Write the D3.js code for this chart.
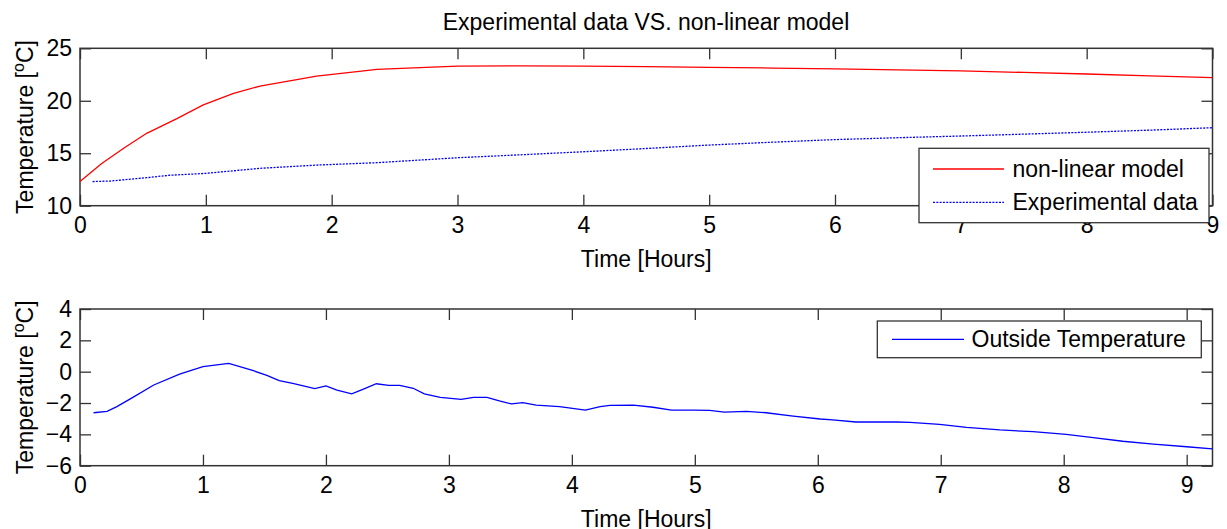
<!DOCTYPE html>
<html>
<head>
<meta charset="utf-8">
<script src="https://cdn.jsdelivr.net/npm/d3@7"></script>
<style>
  body { margin: 0; background: #fff; }
  svg { display: block; font-family: Arial, "Liberation Sans", sans-serif; }
</style>
</head>
<body>
<div id="chart"></div>
<script>
// ── Data ──
const modelHours = [0, 0.17, 0.35, 0.53, 0.77, 0.98, 1.22, 1.43, 1.88, 2.36, 2.7, 3, 3.5, 4, 4.5, 5, 5.5, 6, 6.5, 7, 7.5, 8, 8.5, 9];
const modelTemp  = [12.3, 14.0, 15.5, 16.9, 18.3, 19.6, 20.7, 21.4, 22.35, 23.0, 23.15, 23.3, 23.32, 23.3, 23.25, 23.19, 23.12, 23.03, 22.94, 22.84, 22.7, 22.55, 22.38, 22.2];

const expHours = [0.1, 0.24, 0.53, 0.71, 1.0, 1.14, 1.43, 1.88, 2.36, 2.7, 3, 3.5, 4, 4.5, 5, 5.5, 6, 6.5, 7, 7.5, 8, 8.5, 9];
const expTemp  = [12.3, 12.35, 12.67, 12.9, 13.08, 13.24, 13.56, 13.87, 14.1, 14.35, 14.57, 14.85, 15.14, 15.45, 15.78, 16.05, 16.3, 16.48, 16.64, 16.82, 17.0, 17.2, 17.43];

const outHours = [0.11, 0.22, 0.3, 0.43, 0.6, 0.81, 1.0, 1.21, 1.41, 1.52, 1.62, 1.73, 1.91, 2.0, 2.09, 2.21, 2.32, 2.41, 2.51, 2.6, 2.71, 2.8, 2.93, 3.1, 3.2, 3.31, 3.41, 3.51, 3.6, 3.71, 3.9, 4.11, 4.23, 4.31, 4.5, 4.66, 4.81, 4.99, 5.12, 5.24, 5.42, 5.58, 5.8, 6.02, 6.12, 6.31, 6.64, 6.75, 6.99, 7.21, 7.48, 7.75, 8.02, 8.24, 8.48, 8.73, 9.0, 9.21];
const outTemp  = [-2.62, -2.53, -2.23, -1.64, -0.85, -0.15, 0.32, 0.53, 0.06, -0.23, -0.57, -0.74, -1.08, -0.91, -1.17, -1.42, -1.06, -0.77, -0.87, -0.87, -1.06, -1.42, -1.64, -1.77, -1.64, -1.64, -1.87, -2.06, -1.98, -2.13, -2.23, -2.45, -2.23, -2.15, -2.13, -2.27, -2.45, -2.45, -2.47, -2.58, -2.53, -2.62, -2.83, -3.02, -3.08, -3.21, -3.21, -3.23, -3.36, -3.55, -3.72, -3.83, -4.0, -4.21, -4.44, -4.62, -4.79, -4.92];

const topXTicks = [0, 1, 2, 3, 4, 5, 6, 7, 8, 9];
const topYTicks = [10, 15, 20, 25];
const botXTicks = [0, 1, 2, 3, 4, 5, 6, 7, 8, 9];
const botYTicks = [-6, -4, -2, 0, 2, 4];

const W = 1227, H = 529;
const FONT = 23;
const AXIS = '#333';
const TICK = 11;

const svg = d3.select('#chart').append('svg')
  .attr('width', W).attr('height', H);

function panel(opts) {
  const { left, right, top, bottom, xDomain, yDomain, xTicks, yTicks } = opts;
  const x = d3.scaleLinear().domain(xDomain).range([left, right]);
  const y = d3.scaleLinear().domain(yDomain).range([bottom, top]);

  const g = svg.append('g');

  const styleAxis = sel => {
    sel.select('.domain').remove();
    sel.selectAll('line').attr('stroke', AXIS).attr('stroke-width', 1.3);
    sel.selectAll('text').attr('font-size', FONT).attr('fill', '#000')
      .attr('font-family', 'Arial, "Liberation Sans", sans-serif');
  };

  // ticks on all four sides, pointing inwards
  g.append('g').attr('transform', `translate(0,${bottom})`)
    .call(d3.axisBottom(x).tickValues(xTicks).tickSize(-TICK).tickPadding(11).tickFormat(d3.format('d')))
    .call(styleAxis);
  g.append('g').attr('transform', `translate(0,${top})`)
    .call(d3.axisTop(x).tickValues(xTicks).tickSize(-TICK).tickFormat(''))
    .call(styleAxis);
  g.append('g').attr('transform', `translate(${left},0)`)
    .call(d3.axisLeft(y).tickValues(yTicks).tickSize(-TICK).tickPadding(8).tickFormat(d3.format('d')))
    .call(styleAxis);
  g.append('g').attr('transform', `translate(${right},0)`)
    .call(d3.axisRight(y).tickValues(yTicks).tickSize(-TICK).tickFormat(''))
    .call(styleAxis);

  // box
  g.append('rect')
    .attr('x', left).attr('y', top)
    .attr('width', right - left).attr('height', bottom - top)
    .attr('fill', 'none').attr('stroke', AXIS).attr('stroke-width', 1.5);

  // x label
  g.append('text')
    .attr('x', (left + right) / 2).attr('y', opts.xLabelY)
    .attr('text-anchor', 'middle').attr('font-size', FONT)
    .text('Time [Hours]');

  // y label with superscript degree
  const yl = g.append('text')
    .attr('transform', `translate(33,${(top + bottom) / 2}) rotate(-90)`)
    .attr('text-anchor', 'middle').attr('font-size', FONT);
  yl.append('tspan').text('Temperature [');
  yl.append('tspan').attr('font-size', 16).attr('dy', -9).text('o');
  yl.append('tspan').attr('dy', 9).text('C]');

  return { x, y, g };
}

// ── Top panel ──
const p1 = panel({
  left: 80, right: 1212.5, top: 48.3, bottom: 205.7,
  xDomain: [0, 9], yDomain: [10, 25],
  xTicks: topXTicks, yTicks: topYTicks, xLabelY: 266.5
});

svg.append('text')
  .attr('x', 646).attr('y', 30)
  .attr('text-anchor', 'middle').attr('font-size', FONT)
  .text('Experimental data VS. non-linear model');

const line1 = d3.line().x(d => p1.x(d[0])).y(d => p1.y(d[1]));

p1.g.append('path')
  .datum(d3.zip(modelHours, modelTemp))
  .attr('fill', 'none').attr('stroke', '#ff0000').attr('stroke-width', 1.3)
  .attr('d', line1);

p1.g.append('path')
  .datum(d3.zip(expHours, expTemp))
  .attr('fill', 'none').attr('stroke', '#0000ff').attr('stroke-width', 1.3)
  .attr('stroke-dasharray', '2,1.3')
  .attr('d', line1);

// legend (top)
const lg1 = p1.g.append('g');
lg1.append('rect')
  .attr('x', 919).attr('y', 148.3).attr('width', 290).attr('height', 74.4)
  .attr('fill', '#fff').attr('stroke', AXIS).attr('stroke-width', 1.3);
const legend1 = [
  { label: 'non-linear model', color: '#ff0000', dash: null, y: 169 },
  { label: 'Experimental data', color: '#0000ff', dash: '2,1.3', y: 202.3 }
];
legend1.forEach(d => {
  lg1.append('line')
    .attr('x1', 933).attr('x2', 1004).attr('y1', d.y).attr('y2', d.y)
    .attr('stroke', d.color).attr('stroke-width', 1.3)
    .attr('stroke-dasharray', d.dash);
  lg1.append('text')
    .attr('x', 1012.5).attr('y', d.y + 8).attr('font-size', FONT)
    .text(d.label);
});

// ── Bottom panel ──
const p2 = panel({
  left: 80, right: 1212.5, top: 309, bottom: 465.7,
  xDomain: [0, 9.21], yDomain: [-6, 4],
  xTicks: botXTicks, yTicks: botYTicks, xLabelY: 526.5
});

const line2 = d3.line().x(d => p2.x(d[0])).y(d => p2.y(d[1]));

p2.g.append('path')
  .datum(d3.zip(outHours, outTemp))
  .attr('fill', 'none').attr('stroke', '#0000ff').attr('stroke-width', 1.3)
  .attr('d', line2);

const lg2 = p2.g.append('g');
lg2.append('rect')
  .attr('x', 877.3).attr('y', 321).attr('width', 324).attr('height', 36.7)
  .attr('fill', '#fff').attr('stroke', AXIS).attr('stroke-width', 1.3);
lg2.append('line')
  .attr('x1', 892).attr('x2', 964).attr('y1', 339.3).attr('y2', 339.3)
  .attr('stroke', '#0000ff').attr('stroke-width', 1.3);
lg2.append('text')
  .attr('x', 971.5).attr('y', 347).attr('font-size', FONT)
  .text('Outside Temperature');
</script>
</body>
</html>
